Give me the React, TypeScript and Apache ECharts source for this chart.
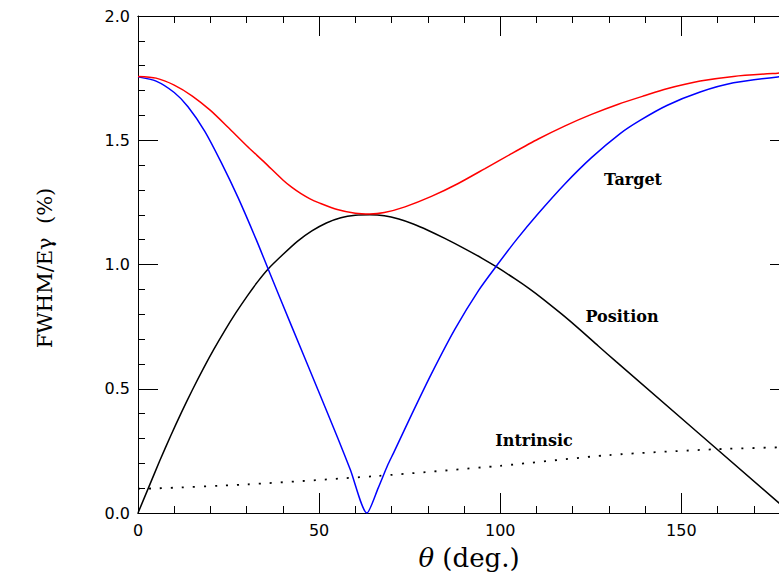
import React, { useEffect, useRef } from "react";
import * as echarts from "echarts";

// theta (deg.) and FWHM/Eγ (%)
const targetTheta = [0, 5, 10, 15, 20, 25, 30, 35, 40, 42.5, 45, 47.5, 50, 55, 60, 64, 68, 73.7, 81, 88.4, 95.8, 103.1, 110.5, 117.9, 125.2, 132.6, 140, 146, 155.2, 164.4, 176.6, 180];
const targetValue = [1.757, 1.75, 1.722, 1.678, 1.62, 1.55, 1.478, 1.41, 1.34, 1.31, 1.285, 1.264, 1.248, 1.221, 1.206, 1.203, 1.209, 1.232, 1.274, 1.326, 1.386, 1.446, 1.505, 1.558, 1.604, 1.645, 1.68, 1.707, 1.738, 1.757, 1.77, 1.772];

const angleTheta = [0, 5, 10, 13.8, 18.4, 23, 27.6, 32.7, 35.9, 42.4, 49.7, 55.2, 58.6, 63.2, 66.3, 69, 70.5, 75.5, 81, 87.5, 94, 99, 104.5, 110.5, 117.9, 125.2, 133.1, 138.6, 146, 155.2, 164.4, 176.6, 180];
const angleValue = [1.755, 1.738, 1.692, 1.635, 1.537, 1.41, 1.27, 1.098, 0.983, 0.752, 0.495, 0.3, 0.175, 0.0, 0.1, 0.195, 0.24, 0.395, 0.56, 0.74, 0.895, 0.995, 1.1, 1.205, 1.325, 1.43, 1.527, 1.58, 1.64, 1.694, 1.731, 1.755, 1.757];

const positionTheta = [0, 3, 6, 9, 12, 15, 18, 21, 24, 27, 30, 33, 36, 40, 44, 48, 52, 56, 60, 64, 68, 72, 76, 80, 84.7, 90, 95, 99, 104, 108, 112, 117, 122, 127, 132, 176.6, 180];
const positionValue = [0, 0.105, 0.21, 0.31, 0.405, 0.495, 0.58, 0.66, 0.735, 0.805, 0.87, 0.93, 0.983, 1.04, 1.093, 1.135, 1.167, 1.188, 1.198, 1.2, 1.196, 1.183, 1.163, 1.138, 1.105, 1.065, 1.025, 0.99, 0.943, 0.903, 0.859, 0.8, 0.738, 0.673, 0.609, 0.045, 0.0];

const intrinsicTheta = [0, 5, 30, 66, 100, 130, 160, 180];
const intrinsicValue = [0.098, 0.099, 0.115, 0.149, 0.19, 0.233, 0.257, 0.265];

const xTickValues = [0, 50, 100, 150];
const yTickLabels = ["0.0", "0.5", "1.0", "1.5", "2.0"];

const curveLabels = [
  { text: "Target", x: 633, y: 179 },
  { text: "Position", x: 622, y: 316 },
  { text: "Intrinsic", x: 534, y: 440 },
];

const zip = (xs: number[], ys: number[]) => xs.map((x, i) => [x, ys[i]]);

export default function App() {
  const ref = useRef<HTMLDivElement>(null);
  useEffect(() => {
    if (!ref.current) return;
    const chart = echarts.init(ref.current, null, { renderer: "svg" });
    const black = "#000";
    const tickFont = { fontFamily: "DejaVu Sans", fontSize: 16, color: black };
    const baseX = (position: string, interval: number, len: number, labels: boolean) => ({
      type: "value",
      position,
      min: 0,
      max: 180,
      interval,
      axisLine: { show: true, onZero: false, lineStyle: { color: black, width: 1 } },
      axisTick: { show: true, inside: true, length: len, lineStyle: { color: black, width: 1 } },
      axisLabel: labels
        ? {
            show: true,
            ...tickFont,
            margin: 9,
            showMaxLabel: false,
            formatter: (v: number) => (xTickValues.includes(v) ? String(v) : ""),
          }
        : { show: false },
      splitLine: { show: false },
    });
    const baseY = (position: string, labels: boolean) => ({
      type: "value",
      position,
      min: 0,
      max: 2,
      interval: 0.5,
      axisLine: { show: true, onZero: false, lineStyle: { color: black, width: 1 } },
      axisTick: { show: true, inside: true, length: 20, lineStyle: { color: black, width: 1 } },
      minorTick: { show: true, splitNumber: 5, length: 7, lineStyle: { color: black, width: 1 } },
      axisLabel: labels
        ? {
            show: true,
            ...tickFont,
            margin: 8,
            formatter: (v: number) => yTickLabels[Math.round(v / 0.5)] ?? "",
          }
        : { show: false },
      splitLine: { show: false },
      minorSplitLine: { show: false },
    });
    const lineSeries = (name: string, data: number[][], color: string, extra: any = {}) => ({
      name,
      type: "line",
      data,
      xAxisIndex: 0,
      yAxisIndex: 0,
      showSymbol: false,
      symbol: "none",
      smooth: 0.25,
      lineStyle: { color, width: 1.5, ...extra },
      silent: true,
    });
    chart.setOption({
      animation: false,
      backgroundColor: "#fff",
      grid: { left: 138, top: 16, width: 652, height: 497 },
      xAxis: [
        baseX("bottom", 50, 20, true),
        baseX("bottom", 10, 7, false),
        baseX("top", 50, 20, false),
        baseX("top", 10, 7, false),
      ],
      yAxis: [baseY("left", true), baseY("right", false)],
      series: [
        lineSeries("Intrinsic", zip(intrinsicTheta, intrinsicValue), black, { type: [2, 9], width: 1.8 }),
        lineSeries("Position", zip(positionTheta, positionValue), black),
        lineSeries("Angle", zip(angleTheta, angleValue), "#0000ff"),
        lineSeries("Target", zip(targetTheta, targetValue), "#ff0000"),
      ],
      graphic: [
        ...curveLabels.map((l) => ({
          type: "text",
          x: l.x,
          y: l.y,
          silent: true,
          style: {
            text: l.text,
            fill: black,
            font: "bold 16px 'DejaVu Serif'",
            textAlign: "center",
            textVerticalAlign: "middle",
          },
        })),
        {
          type: "text",
          x: 45,
          y: 268,
          rotation: Math.PI / 2,
          silent: true,
          style: {
            text: "FWHM/E\u03b3  (%)",
            fill: black,
            font: "21px 'DejaVu Serif'",
            textAlign: "center",
            textVerticalAlign: "middle",
          },
        },
        {
          type: "text",
          x: 469,
          y: 558,
          silent: true,
          style: {
            text: "{i|\u03b8} (deg.)",
            fill: black,
            font: "26px 'DejaVu Serif'",
            textAlign: "center",
            textVerticalAlign: "middle",
            rich: { i: { fontStyle: "italic", fontFamily: "DejaVu Serif", fontSize: 26 } },
          },
        },
      ],
    });
    return () => chart.dispose();
  }, []);
  return (
    <div style={{ position: "fixed", left: 0, top: 0, width: 779, height: 577, overflow: "hidden", background: "#fff" }}>
      <div ref={ref} style={{ width: 830, height: 577 }} />
    </div>
  );
}
